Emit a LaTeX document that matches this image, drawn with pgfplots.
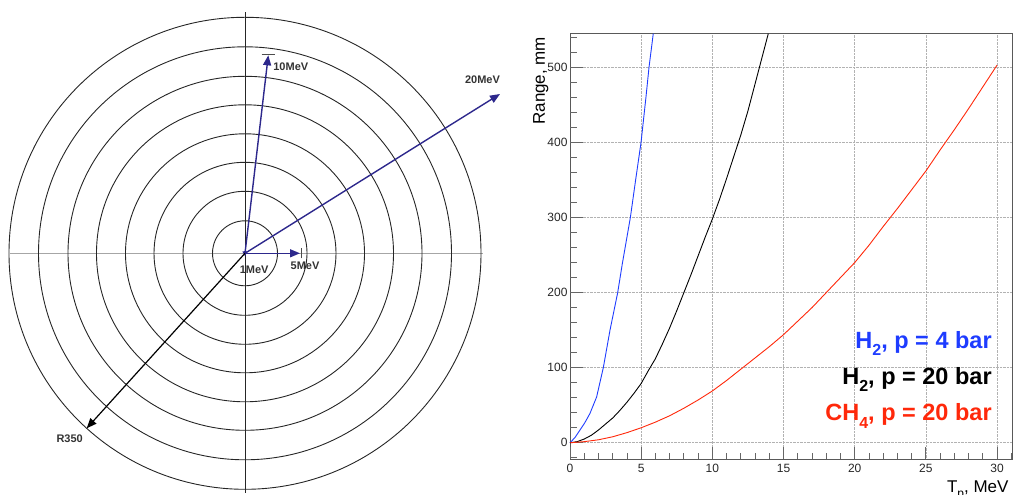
\documentclass[border=0pt]{standalone}
\usepackage{pgfplots}
\pgfplotsset{compat=1.18}
\usepackage{fontspec}
\setmainfont{Liberation Sans}
\usetikzlibrary{arrows.meta}
\definecolor{navy}{RGB}{45,40,140}
\definecolor{rblue}{RGB}{30,60,255}
\definecolor{rred}{RGB}{255,40,10}
\newcommand{\sub}[1]{\raisebox{-0.32em}{\fontsize{16}{16}\selectfont #1}}
\begin{document}
\begin{tikzpicture}
\useasboundingbox (0pt,0pt) rectangle (1013pt,495pt);
% ---------------- right panel ----------------
\begin{axis}[
  at={(570pt,35.7pt)}, anchor=south west,
  scale only axis, width=442pt, height=426pt,
  xmin=0, xmax=31.05, ymin=-22, ymax=545.4,
  xtick={0,5,...,30}, ytick={0,100,...,500},
  minor xtick={1,2,3,4,6,7,8,9,11,12,13,14,16,17,18,19,21,22,23,24,26,27,28,29,31},
  minor ytick={-20,20,40,60,80,120,140,160,180,220,240,260,280,320,340,360,380,420,440,460,480,520,540},
  xtick pos=bottom, ytick pos=left, tick align=inside,
  major tick length=12.5pt, minor tick length=6.5pt,
  tick style={black!60, line width=0.8pt},
  axis line style={black!65, line width=0.9pt},
  xmajorgrids, ymajorgrids, major grid style={densely dotted, gray!60, line width=0.7pt},
  /pgf/number format/assume math mode=true,
  tick label style={font=\fontsize{12}{12}\selectfont, text=black!85},
  xticklabel style={yshift=-1pt},
  yticklabel style={xshift=1pt},
  xlabel={T\sub{\fontsize{12}{12}\selectfont p}, MeV},
  ylabel={Range, mm},
  label style={font=\fontsize{17}{17}\selectfont},
  xlabel style={at={(axis description cs:1,-0.0775)}, anchor=base east},
  ylabel style={at={(axis description cs:-0.0566,1)}, anchor=base east},
  clip=false]
% tick marks drawn as short segments through the axis (same lengths as the native ticks)
\pgfplotsinvokeforeach{0,5,10,15,20,25,30}{
  \addplot[black!60, line width=0.8pt, forget plot] coordinates {(#1,-22) (#1,-5.35)};}
\pgfplotsinvokeforeach{1,2,3,4,6,7,8,9,11,12,13,14,16,17,18,19,21,22,23,24,26,27,28,29,31}{
  \addplot[black!60, line width=0.8pt, forget plot] coordinates {(#1,-22) (#1,-13.34)};}
\pgfplotsinvokeforeach{0,100,200,300,400,500}{
  \addplot[black!60, line width=0.8pt, forget plot] coordinates {(0,#1) (0.878,#1)};}
\pgfplotsinvokeforeach{-20,20,40,60,80,120,140,160,180,220,240,260,280,320,340,360,380,420,440,460,480,520,540}{
  \addplot[black!60, line width=0.8pt, forget plot] coordinates {(0,#1) (0.457,#1)};}
% curves
\addplot[rblue, line width=0.9pt] coordinates {
(0,0) (0.35,7) (0.7,17) (1.05,27) (1.4,39) (1.87,61) (2.34,100) (2.81,150) (3.35,200) (3.68,239) (4.24,300) (4.61,350) (4.99,400) (5.34,461) (5.55,500) (5.85,545)};
\addplot[black, line width=0.9pt] coordinates {
(0,0) (0.5,1.5) (1,5) (1.5,10) (2,17) (2.5,25) (3,33) (3.5,43) (4,54) (4.5,66) (5,79) (5.5,96) (6,112) (6.5,132) (7,153) (7.5,176) (8,200) (8.5,224) (9,249) (9.5,274) (10,298) (10.5,324) (11,352) (11.5,381) (12,410) (12.5,442) (13,478) (13.5,514) (13.93,545)};
\addplot[rred, line width=0.9pt] coordinates {
(0,0) (1,1.5) (2,4) (3,8) (4,13.5) (5,20) (6,27.5) (7,36) (8,46) (9,57) (10,69) (11,83) (12,98) (13,113) (14,128) (15,144) (16,162) (17,180) (18,200) (19,220) (20,240) (21,263) (22,288) (23,312) (24,337) (25,362) (26,390) (27,417) (28,445) (29,474) (30,503)};
\node[anchor=base east, font=\bfseries\fontsize{23.5}{23.5}\selectfont, text=rblue] at (axis cs:29.87,125.7) {H\sub{2}, p = 4 bar};
\node[anchor=base east, font=\bfseries\fontsize{23.5}{23.5}\selectfont, text=black] at (axis cs:29.87,78.2) {H\sub{2}, p = 20 bar};
\node[anchor=base east, font=\bfseries\fontsize{23.5}{23.5}\selectfont, text=rred] at (axis cs:29.87,29.3) {CH\sub{4}, p = 20 bar};
\end{axis}
% ---------------- left panel ----------------
\begin{axis}[
  at={(0pt,0pt)}, anchor=south west,
  scale only axis, width=500pt, height=495pt,
  xmin=-245, xmax=255, ymin=-241.7, ymax=253.3,
  axis lines=none, xtick=\empty, ytick=\empty, clip=false]
\addplot[gray!70, line width=1.2pt] coordinates {(-235,0) (238,0)};
\addplot[black!85, line width=0.8pt] coordinates {(0,241) (0,-240)};
\draw[black!85, line width=0.9pt] (axis cs:0,0) circle[radius=32.5pt];
\draw[black!85, line width=0.9pt] (axis cs:0,0) circle[radius=62pt];
\draw[black!85, line width=0.9pt] (axis cs:0,0) circle[radius=91pt];
\draw[black!85, line width=0.9pt] (axis cs:0,0) circle[radius=119.5pt];
\draw[black!85, line width=0.9pt] (axis cs:0,0) circle[radius=148.5pt];
\draw[black!85, line width=0.9pt] (axis cs:0,0) circle[radius=177pt];
\draw[black!85, line width=0.9pt] (axis cs:0,0) circle[radius=206.5pt];
\draw[black!85, line width=0.9pt] (axis cs:0,0) circle[radius=236pt];
% arrows
\addplot[navy, line width=1.4pt, -{Triangle[length=10pt,width=8pt]}] coordinates {(0,0) (23.3,198)};
\addplot[black!70, line width=0.8pt] coordinates {(16.7,199.3) (30,199.3)};
\addplot[navy, line width=1.4pt, -{Triangle[length=10pt,width=8pt]}] coordinates {(0,0) (255,159.3)};
\addplot[navy, line width=1.4pt, -{Triangle[length=10pt,width=8pt]}] coordinates {(0,0) (55,0)};
\addplot[black!70, line width=0.8pt] coordinates {(56,-5) (56,5)};
\addplot[navy, line width=1.3pt, -{Triangle[length=5pt,width=5pt]}] coordinates {(0,2) (0,-3)};
\addplot[black, line width=1.2pt, -{Triangle[length=10pt,width=8pt]}] coordinates {(0,0) (-158.3,-175)};
\node[font=\bfseries\fontsize{11}{11}\selectfont, text=black!80] at (axis cs:45.8,186.6) {10MeV};
\node[font=\bfseries\fontsize{11}{11}\selectfont, text=black!80] at (axis cs:237.5,173.3) {20MeV};
\node[font=\bfseries\fontsize{11}{11}\selectfont, text=black!80] at (axis cs:60,-12.5) {5MeV};
\node[font=\bfseries\fontsize{11}{11}\selectfont, text=black!80] at (axis cs:9.2,-16.7) {1MeV};
\node[font=\bfseries\fontsize{11}{11}\selectfont, text=black!80] at (axis cs:-175.3,-185.9) {R350};
\end{axis}
\end{tikzpicture}
\end{document}
